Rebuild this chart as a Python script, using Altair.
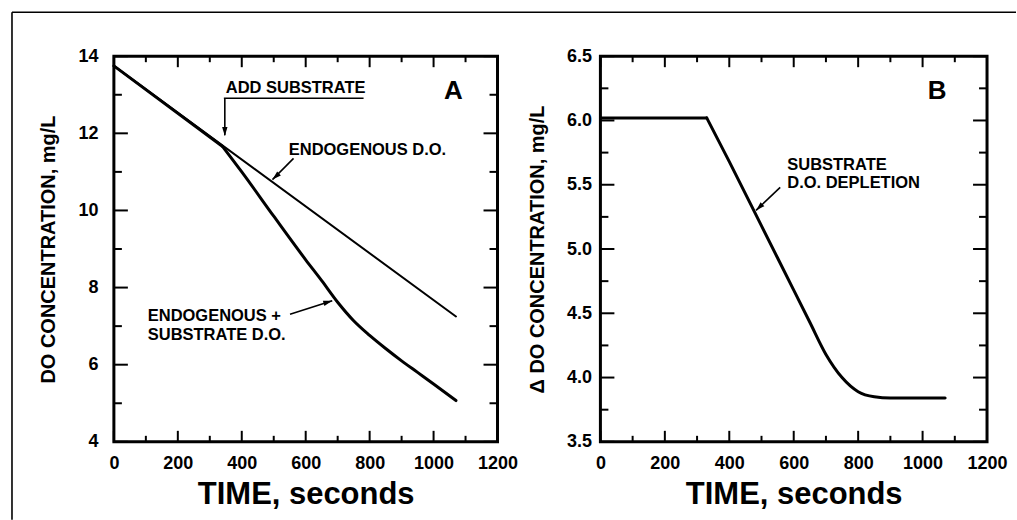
import altair as alt
import pandas as pd

FONT = "Liberation Sans"

# ---------------- Panel A data ----------------
endo_t = [0, 1070]
endo_v = [13.75, 7.25]
total_t = [0, 340, 400, 500, 600, 650, 700, 750, 800, 850, 900, 950, 1000, 1070]
total_v = [13.75, 11.66, 11.0, 9.85, 8.72, 8.18, 7.62, 7.14, 6.76, 6.42, 6.1, 5.8, 5.5, 5.07]
SUBSTRATE_ADDED = 340  # time at which the curves separate

# ---------------- Panel B data ----------------
dep_t = [0, 330, 400, 500, 600, 650, 700, 750, 800, 850, 900, 1070]
dep_v = [6.02, 6.02, 5.68, 5.18, 4.68, 4.43, 4.18, 4.0, 3.89, 3.85, 3.84, 3.84]
DEPLETION_START = 330

# ---------------- ticks ----------------
x_major = [0, 200, 400, 600, 800, 1000, 1200]
x_minor = [100, 300, 500, 700, 900, 1100]
ya_major = [4, 6, 8, 10, 12, 14]
ya_minor = [5, 7, 9, 11, 13]
yb_major = [3.5, 4.0, 4.5, 5.0, 5.5, 6.0, 6.5]
yb_minor = [3.75, 4.25, 4.75, 5.25, 5.75, 6.25]

# ---------------- annotations ----------------
a_text_t = [350, 547, 106, 106]
a_text_v = [13.17, 11.56, 7.26, 6.77]
a_text = ["ADD SUBSTRATE", "ENDOGENOUS D.O.", "ENDOGENOUS +", "SUBSTRATE D.O."]
a_seg_t = [344, 347, 562, 551]
a_seg_v = [12.91, 12.91, 11.35, 7.31]
a_seg_t2 = [781, 347, 496, 683]
a_seg_v2 = [12.91, 11.95, 10.80, 7.66]

b_text_t = [580, 580]
b_text_v = [5.65, 5.51]
b_text = ["SUBSTRATE", "D.O. DEPLETION"]
b_seg_t = [558]
b_seg_v = [5.48]
b_seg_t2 = [483]
b_seg_v2 = [5.30]

W_A, W_B, H = 384, 387, 386
ARROW = "M0,0 L-0.3,1 L0.3,1 Z"


def split(tt, vv, t0):
    """Split a series at t0 into a straight part and a smooth part (both include t0)."""
    a = [(t, v) for t, v in zip(tt, vv) if t <= t0]
    b = [(t, v) for t, v in zip(tt, vv) if t >= t0]
    return a, b


def build_panel(width, xdom, ydom, ymaj, ymin, yfmt, ytitle, ylabpad, ytitle_x,
                series, texts, segs, heads, letter, extra=None):
    base_axis = dict(ticks=False, domain=False, grid=False, labelFont=FONT,
                     labelFontWeight="bold", labelFontSize=18, labelColor="black",
                     titleFont=FONT, titleFontWeight="bold", titleColor="black",
                     labelFlush=False, labelOverlap=False)
    xs = alt.Scale(domain=xdom, nice=False, zero=False)
    ys = alt.Scale(domain=ydom, nice=False, zero=False)
    xax = alt.Axis(values=x_major, format="d", title="TIME, seconds", titleFontSize=31,
                   labelPadding=13, titleX=width / 2, titleY=53, titleBaseline="middle",
                   titleAlign="center", **base_axis)
    yax = alt.Axis(values=ymaj, format=yfmt, title=ytitle, titleFontSize=20,
                   labelPadding=ylabpad, titleX=ytitle_x, titleY=H / 2,
                   titleBaseline="middle", titleAlign="center", titleAngle=270, **base_axis)
    X = lambda f: alt.X(f, type="quantitative", scale=xs, axis=xax)
    Y = lambda f: alt.Y(f, type="quantitative", scale=ys, axis=yax)

    layers = []
    for (pts, sw, interp) in series:
        df = pd.DataFrame(pts, columns=["t", "v"])
        layers.append(alt.Chart(df).mark_line(color="black", strokeWidth=sw, interpolate=interp,
                                              strokeJoin="round", strokeCap="round")
                      .encode(x=X("t"), y=Y("v")))
    # ticks (inward)
    dfxM = pd.DataFrame({"t": x_major})
    dfxm = pd.DataFrame({"t": x_minor})
    dfyM = pd.DataFrame({"v": ymaj})
    dfym = pd.DataFrame({"v": ymin})
    tk = dict(thickness=2, color="black", opacity=1)
    for df, L in ((dfxM, 11), (dfxm, 6)):
        layers.append(alt.Chart(df).mark_tick(orient="vertical", size=L, yOffset=-L / 2, **tk)
                      .encode(x=X("t"), y=alt.value(H)))
        layers.append(alt.Chart(df).mark_tick(orient="vertical", size=L, yOffset=L / 2, **tk)
                      .encode(x=X("t"), y=alt.value(0)))
    for df, L in ((dfyM, 14), (dfym, 8)):
        layers.append(alt.Chart(df).mark_tick(orient="horizontal", size=L, xOffset=L / 2, **tk)
                      .encode(y=Y("v"), x=alt.value(0)))
        layers.append(alt.Chart(df).mark_tick(orient="horizontal", size=L, xOffset=-L / 2, **tk)
                      .encode(y=Y("v"), x=alt.value(width)))
    # plot frame
    one = pd.DataFrame({"k": [0]})
    layers.append(alt.Chart(one).mark_rect(filled=False, stroke="black", strokeWidth=3,
                                           fillOpacity=0)
                  .encode(x=alt.value(0), x2=alt.value(width), y=alt.value(0), y2=alt.value(H)))
    # annotation text
    tdf = pd.DataFrame({"t": texts[0], "v": texts[1], "label": texts[2]})
    layers.append(alt.Chart(tdf).mark_text(align="left", baseline="middle", font=FONT,
                                           fontWeight="bold", fontSize=16.5, color="black")
                  .encode(x=X("t"), y=Y("v"), text="label:N"))
    # arrow shafts
    sdf = pd.DataFrame({"t": segs[0], "v": segs[1], "t2": segs[2], "v2": segs[3]})
    layers.append(alt.Chart(sdf).mark_rule(color="black", strokeWidth=1.6)
                  .encode(x=X("t"), y=Y("v"), x2="t2:Q", y2="v2:Q"))
    # arrow heads
    for (ht, hv, ang) in heads:
        hdf = pd.DataFrame({"t": [ht], "v": [hv]})
        layers.append(alt.Chart(hdf).mark_point(shape=ARROW, filled=True, size=324,
                                                color="black", opacity=1, angle=ang)
                      .encode(x=X("t"), y=Y("v")))
    # panel letter
    ldf = pd.DataFrame({"t": [letter[0]], "v": [letter[1]], "label": [letter[2]]})
    layers.append(alt.Chart(ldf).mark_text(align="center", baseline="middle", font=FONT,
                                           fontWeight="bold", fontSize=26, color="black")
                  .encode(x=X("t"), y=Y("v"), text="label:N"))
    if extra is not None:
        layers.extend(extra)
    return alt.layer(*layers).properties(width=width, height=H)


one = pd.DataFrame({"k": [0]})
frame = [
    alt.Chart(one).mark_rule(color="black", strokeWidth=1.6).encode(
        x=alt.value(-102), x2=alt.value(903), y=alt.value(-44), y2=alt.value(-44)),
    alt.Chart(one).mark_rule(color="black", strokeWidth=1.6).encode(
        x=alt.value(-102), x2=alt.value(-102), y=alt.value(-44), y2=alt.value(464)),
]

tot_a, tot_b = split(total_t, total_v, SUBSTRATE_ADDED)
dep_a, dep_b = split(dep_t, dep_v, DEPLETION_START)

panel_a = build_panel(
    W_A, [0, 1200], [4, 14], ya_major, ya_minor, "d", "DO CONCENTRATION, mg/L", 16, -65,
    [(list(zip(endo_t, endo_v)), 2, "linear"),
     (tot_a, 3, "linear"), (tot_b, 3, "monotone")],
    (a_text_t, a_text_v, a_text),
    (a_seg_t, a_seg_v, a_seg_t2, a_seg_v2),
    [(347, 11.93, 180), (496, 10.80, 227), (683, 7.66, 73)],
    (1062, 13.09, "A"),
    extra=frame,
)

panel_b = build_panel(
    W_B, [0, 1200], [3.5, 6.5], yb_major, yb_minor, ".1f", "Δ DO CONCENTRATION, mg/L", 9, -63,
    [(dep_a, 3, "linear"), (dep_b, 3, "monotone")],
    (b_text_t, b_text_v, b_text),
    (b_seg_t, b_seg_v, b_seg_t2, b_seg_v2),
    [(483, 5.30, 226)],
    (1045, 6.23, "B"),
)

chart = (
    alt.hconcat(panel_a, panel_b, spacing=103, bounds="flush")
    .resolve_scale(x="independent", y="independent")
    .properties(padding={"left": 11, "top": 11, "right": 0, "bottom": 0},
                background="white")
    .configure_view(stroke=None)
)

chart.save("out.html", embed_options={"renderer": "svg", "actions": False})
